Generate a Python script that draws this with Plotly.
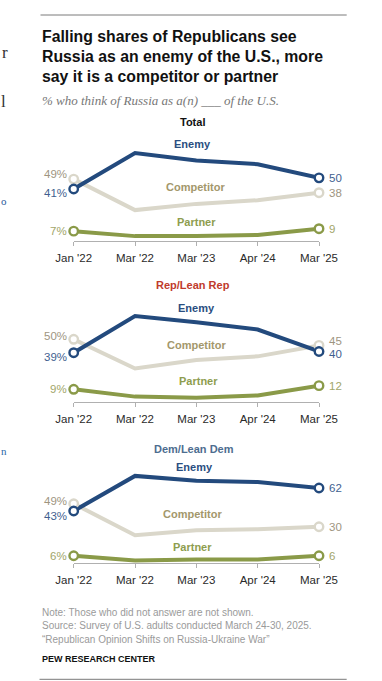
import plotly.graph_objects as go

W, H = 382, 681

# ---------------- data ----------------
dates = ["Jan '22", "Mar '22", "Mar '23", "Apr '24", "Mar '25"]
series_names = ["Competitor", "Partner", "Enemy"]
panel_titles = ["Total", "Rep/Lean Rep", "Dem/Lean Dem"]

total_enemy = [41, 70, 64, 61, 50]
total_competitor = [49, 24, 29, 32, 38]
total_partner = [7, 3, 3, 4, 9]

rep_enemy = [39, 69, 64, 58, 40]
rep_competitor = [50, 26, 33, 36, 45]
rep_partner = [9, 3, 2, 4, 12]

dem_enemy = [43, 72, 68, 67, 62]
dem_competitor = [49, 23, 27, 28, 30]
dem_partner = [6, 2, 3, 3, 6]

panel_data = [
    {"Enemy": total_enemy, "Competitor": total_competitor, "Partner": total_partner},
    {"Enemy": rep_enemy, "Competitor": rep_competitor, "Partner": rep_partner},
    {"Enemy": dem_enemy, "Competitor": dem_competitor, "Partner": dem_partner},
]

# ---------------- styles ----------------
line_col = {"Enemy": "#234a7d", "Competitor": "#dad7ca", "Partner": "#8a9a48"}
name_col = {"Enemy": "#2a4e80", "Competitor": "#a3976b", "Partner": "#8e9d4e"}
val_col = {"Enemy": "#3f5f8f", "Competitor": "#9e957f", "Partner": "#a2a66a"}
title_col = ["#111111", "#bf3b2c", "#4d6d8f"]

FONT = "Liberation Sans, Arial, sans-serif"

def px(x):
    return x / W

def py(y):
    return 1 - y / H

# panel geometry (pixels)
panels = [
    dict(axis_px=240.7, ref_val=41, ref_px=189.0, scale=1.24, title_px=(193, 122),
         names={"Enemy": (193, 143.7), "Competitor": (195, 186.7), "Partner": (196, 221.7)},
         nudge_l={"Enemy": -4, "Competitor": 5, "Partner": 0},
         nudge_r={"Enemy": 0, "Competitor": 0, "Partner": 0}),
    dict(axis_px=401.7, ref_val=39, ref_px=352.7, scale=1.22, title_px=(193, 285),
         names={"Enemy": (196, 307.7), "Competitor": (196, 344.7), "Partner": (198, 381)},
         nudge_l={"Enemy": -4, "Competitor": 3, "Partner": 0},
         nudge_r={"Enemy": -2.5, "Competitor": 4.5, "Partner": 0}),
    dict(axis_px=563.3, ref_val=43, ref_px=511.0, scale=1.21, title_px=(194, 449.3),
         names={"Enemy": (194, 467.3), "Competitor": (193, 513.7), "Partner": (193, 546.7)},
         nudge_l={"Enemy": -5, "Competitor": 3, "Partner": 0},
         nudge_r={"Enemy": 0, "Competitor": 0, "Partner": 0}),
]

fig = go.Figure()
annotations = []
shapes = []
layout = {}

for i, p in enumerate(panels):
    k = "" if i == 0 else str(i + 1)
    top_px = p["axis_px"] - 112

    def val(pix, p=p):
        return p["ref_val"] + (p["ref_px"] - pix) / p["scale"]

    layout["xaxis" + k] = dict(
        domain=[px(73.7), px(319)], range=[0, 4], type="category",
        anchor="y" + k, showline=True, linecolor="#b0b0b0", linewidth=1,
        ticks="outside", ticklen=4, tickcolor="#b0b0b0", tickwidth=1,
        showgrid=False, zeroline=False, fixedrange=True, automargin=False,
        tickfont=dict(family=FONT, size=11.5, color="#2a2a2a"),
        ticklabelstandoff=2,
    )
    layout["yaxis" + k] = dict(
        domain=[py(p["axis_px"]), py(top_px)],
        range=[val(p["axis_px"]), val(top_px)],
        visible=False, anchor="x" + k, fixedrange=True, automargin=False,
    )

    for s in series_names:
        vals = panel_data[i][s]
        fig.add_trace(go.Scatter(
            x=dates, y=vals, xaxis="x" + k, yaxis="y" + k, mode="lines",
            line=dict(color=line_col[s], width=4),
            cliponaxis=False, showlegend=False, hoverinfo="skip",
        ))
    for s in series_names:
        vals = panel_data[i][s]
        fig.add_trace(go.Scatter(
            x=[dates[0], dates[-1]], y=[vals[0], vals[-1]], xaxis="x" + k, yaxis="y" + k,
            mode="markers",
            marker=dict(size=8.5, color="white", line=dict(color=line_col[s], width=2.4)),
            cliponaxis=False, showlegend=False, hoverinfo="skip",
        ))
        annotations.append(dict(
            x=dates[0], y=vals[0], xref="x" + k, yref="y" + k, text=f"{vals[0]}%",
            showarrow=False, xanchor="right", yanchor="middle", xshift=-5,
            yshift=p["nudge_l"][s], font=dict(family=FONT, size=11.5, color=val_col[s])))
        annotations.append(dict(
            x=dates[-1], y=vals[-1], xref="x" + k, yref="y" + k, text=f"{vals[-1]}",
            showarrow=False, xanchor="left", yanchor="middle", xshift=8,
            yshift=p["nudge_r"][s], font=dict(family=FONT, size=11.5, color=val_col[s])))
        nx, ny = p["names"][s]
        annotations.append(dict(
            x=px(nx), y=py(ny), xref="paper", yref="paper", text=f"<b>{s}</b>",
            showarrow=False, xanchor="center", yanchor="middle",
            font=dict(family=FONT, size=11, color=name_col[s])))
    tx, ty = p["title_px"]
    annotations.append(dict(
        x=px(tx), y=py(ty), xref="paper", yref="paper", text=f"<b>{panel_titles[i]}</b>",
        showarrow=False, xanchor="center", yanchor="middle",
        font=dict(family=FONT, size=11, color=title_col[i])))

# ---------------- header / footer ----------------
title_lines = ["Falling shares of Republicans see",
               "Russia as an enemy of the U.S., more",
               "say it is a competitor or partner"]
for j, t in enumerate(title_lines):
    annotations.append(dict(
        x=px(39.5), y=py(36.3 + 20.3 * j), xref="paper", yref="paper", text=f"<b>{t}</b>",
        showarrow=False, xanchor="left", yanchor="middle",
        font=dict(family=FONT, size=15.8, color="#111111")))

annotations.append(dict(
    x=px(40), y=py(100), xref="paper", yref="paper",
    text="<i>% who think of Russia as a(n) ___ of the U.S.</i>",
    showarrow=False, xanchor="left", yanchor="middle",
    font=dict(family="Liberation Serif, serif", size=13, color="#777777")))

note_lines = ["Note: Those who did not answer are not shown.",
              "Source: Survey of U.S. adults conducted March 24-30, 2025.",
              "\u201cRepublican Opinion Shifts on Russia-Ukraine War\u201d"]
for j, t in enumerate(note_lines):
    annotations.append(dict(
        x=px(39.5), y=py(612.7 + 13.2 * j), xref="paper", yref="paper", text=t,
        showarrow=False, xanchor="left", yanchor="middle",
        font=dict(family=FONT, size=10, color="#9a9a9a")))
annotations.append(dict(
    x=px(39.5), y=py(659), xref="paper", yref="paper", text="<b>PEW RESEARCH CENTER</b>",
    showarrow=False, xanchor="left", yanchor="middle",
    font=dict(family=FONT, size=9, color="#111111")))

# fragments of neighbouring page text at the left edge (kept inside the picture)
for ch, xx, yy, col, sz in [("r", 0.5, 53, "#333333", 17), ("l", 0, 101, "#333333", 17),
                            ("o", 0, 201, "#2a5a9a", 11), ("n", 0, 451, "#2a6aa8", 11)]:
    annotations.append(dict(
        x=px(xx), y=py(yy), xref="paper", yref="paper", text=ch, showarrow=False,
        xanchor="left", yanchor="middle", borderpad=0,
        font=dict(family="Liberation Serif, serif", size=sz, color=col)))

shapes.append(dict(type="line", xref="paper", yref="paper", x0=px(40.5), x1=px(346.7),
                   y0=py(15), y1=py(15), line=dict(color="#7a7a7a", width=1)))
shapes.append(dict(type="line", xref="paper", yref="paper", x0=px(39.5), x1=px(346.7),
                   y0=py(679.3), y1=py(679.3), line=dict(color="#7a7a7a", width=1)))

fig.update_layout(
    width=W, height=H, autosize=False,
    margin=dict(l=0, r=0, t=0, b=0, pad=0, autoexpand=False),
    paper_bgcolor="white", plot_bgcolor="white",
    annotations=annotations, shapes=shapes, showlegend=False,
    **layout,
)

fig.write_html("out.html", config={"displayModeBar": False},
               post_script="document.body.style.margin='0';document.body.style.overflow='hidden';")
